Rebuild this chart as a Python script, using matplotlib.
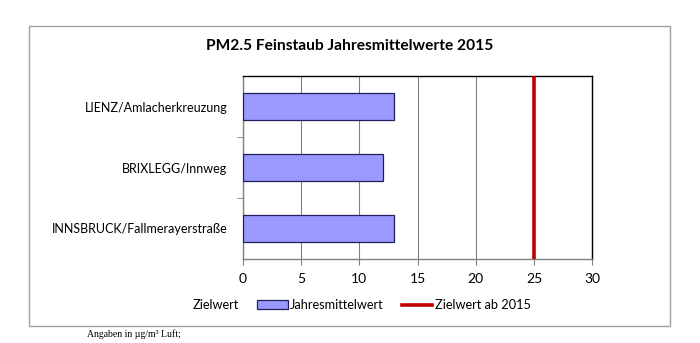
import matplotlib
matplotlib.use("Agg")
import matplotlib.pyplot as plt
from matplotlib.patches import Rectangle, Patch
from matplotlib.lines import Line2D

stations = ["LIENZ/Amlacherkreuzung", "BRIXLEGG/Innweg", "INNSBRUCK/Fallmerayerstraße"]
annual_means = [13, 12, 13]
target_value = 25
x_ticks = [0, 5, 10, 15, 20, 25, 30]

plt.rcParams["font.family"] = ["Lato", "DejaVu Sans"]

fig = plt.figure(figsize=(7.0, 3.43), dpi=100)

# outer chart frame
fig.patches.append(Rectangle((0.041, 0.05), 0.916, 0.874, transform=fig.transFigure,
                             fill=False, edgecolor="#a0a0a0", linewidth=1.0))

ax = fig.add_axes([0.347, 0.245, 0.499, 0.533])

ypos = list(range(len(stations)))[::-1]
ax.barh(ypos, annual_means, height=0.45, color="#9999ff", edgecolor="#1f1f5f",
        linewidth=0.9, zorder=3)
ax.axvline(target_value, color="#c00000", linewidth=2.6, zorder=4)

ax.set_xlim(0, 30)
ax.set_ylim(-0.5, len(stations) - 0.5)
ax.set_xticks(x_ticks)
ax.set_xticklabels([str(t) for t in x_ticks], fontsize=10)
ax.set_yticks(ypos)
ax.set_yticklabels(stations, fontsize=9.0)
ax.tick_params(axis="y", length=0, pad=11)
ax.set_yticks([0.5, 1.5], minor=True)
ax.tick_params(axis="y", which="minor", length=4, color="#808080")
ax.tick_params(axis="x", length=4, color="#808080", pad=6)
ax.grid(axis="x", color="#808080", linewidth=0.8, zorder=0)

for side in ("top", "right"):
    ax.spines[side].set_color("#000000")
    ax.spines[side].set_linewidth(1.0)
for side in ("left", "bottom"):
    ax.spines[side].set_color("#808080")
    ax.spines[side].set_linewidth(1.0)

fig.text(0.5, 0.865, "PM2.5 Feinstaub Jahresmittelwerte 2015", ha="center", va="center",
         fontsize=11.2, fontweight="bold")

handles = [
    Line2D([], [], linestyle="none"),
    Patch(facecolor="#9999ff", edgecolor="#1f1f5f", linewidth=0.9),
    Line2D([], [], color="#c00000", linewidth=2.6),
]
labels = ["Zielwert", "Jahresmittelwert", "Zielwert ab 2015"]
fig.legend(handles, labels, loc="center", bbox_to_anchor=(0.493, 0.11), ncol=3,
           frameon=False, fontsize=9.2, handlelength=2.4, handletextpad=0.2,
           columnspacing=1.4)

fig.text(0.124, 0.025, "Angaben in µg/m³ Luft;", ha="left", va="center", fontsize=7,
         family=["Liberation Serif", "DejaVu Serif"])

fig.savefig("out.png", dpi=100)
